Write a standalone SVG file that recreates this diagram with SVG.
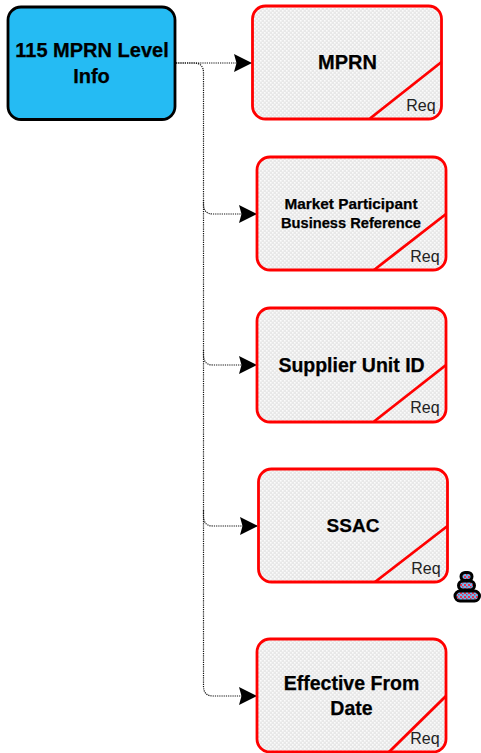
<svg xmlns="http://www.w3.org/2000/svg" width="481" height="753" viewBox="0 0 481 753">
<style>
.t{font-family:"Liberation Sans",Arial,sans-serif;font-weight:700;fill:#000;text-anchor:middle;stroke:#000;stroke-width:.25}
.b{fill:url(#dots);stroke:#f00;stroke-width:2.8}
.d{fill:none;stroke:#f00;stroke-width:2.8}
.r{font-family:"Liberation Sans",Arial,sans-serif;font-size:16px;fill:#222;text-anchor:middle}
.c{fill:none;stroke:#111;stroke-width:1.2;stroke-dasharray:1.2 1}
</style>
<defs>
<pattern id="dots" width="4" height="4" patternUnits="userSpaceOnUse">
<rect width="4" height="4" fill="#e8e8e8"/>
<rect x="0" y="0" width="1.6" height="1.6" fill="#fbfbfb"/>
<rect x="2" y="2" width="1.6" height="1.6" fill="#fbfbfb"/>
</pattern>
<pattern id="stk" width="4" height="4" patternUnits="userSpaceOnUse">
<rect width="4" height="4" fill="#6cb8f2"/>
<rect x="0" y="0" width="2" height="2" fill="#e8304e"/>
<rect x="2" y="2" width="1.500" height="1.500" fill="#e8304e"/>
</pattern>
<marker id="arr" markerUnits="userSpaceOnUse" markerWidth="19" markerHeight="19" refX="18" refY="9.500" orient="auto">
<path d="M0 0.500L18 9.500L0 18.500L2.500 9.500Z" fill="#000"/>
</marker>
</defs>
<g id="connectors">
<path class="c" d="M176 63H252" marker-end="url(#arr)"/>
<path class="c" d="M176 63H194Q203.500 63 203.500 73V204Q203.500 214 213 214H257" marker-end="url(#arr)"/>
<path class="c" d="M203.500 200V355Q203.500 365 213 365H257" marker-end="url(#arr)"/>
<path class="c" d="M203.500 350V516Q203.500 526 213 526H258" marker-end="url(#arr)"/>
<path class="c" d="M203.500 510V686Q203.500 696 213 696H257" marker-end="url(#arr)"/>
</g>
<g id="node-root">
<rect x="8" y="7" width="167" height="112.500" rx="13" fill="#25bbf3" stroke="#000" stroke-width="2.800"/>
<text class="t" x="92" y="57" font-size="20">115 MPRN Level</text>
<text class="t" x="91.500" y="83" font-size="20">Info</text>
</g>
<g id="node-mprn">
<rect class="b" x="252.500" y="6" width="189" height="113" rx="13"/>
<path class="d" d="M370 118.500L441.500 62"/>
<text class="t" x="347.500" y="69" font-size="20">MPRN</text>
<text class="r" x="421" y="111">Req</text>
</g>
<g id="node-market">
<rect class="b" x="257" y="157" width="189" height="113" rx="13"/>
<path class="d" d="M374 270L446 214"/>
<text class="t" x="351" y="209" font-size="15" textLength="133" lengthAdjust="spacingAndGlyphs">Market Participant</text>
<text class="t" x="351" y="228" font-size="15" textLength="140" lengthAdjust="spacingAndGlyphs">Business Reference</text>
<text class="r" x="425" y="262">Req</text>
</g>
<g id="node-supplier">
<rect class="b" x="257" y="308" width="189" height="114" rx="13"/>
<path class="d" d="M374 421.500L446 365"/>
<text class="t" x="351.500" y="372" font-size="19.500">Supplier Unit ID</text>
<text class="r" x="425" y="413">Req</text>
</g>
<g id="node-ssac">
<rect class="b" x="258.500" y="469" width="189" height="113" rx="13"/>
<path class="d" d="M375 582L447.500 526"/>
<text class="t" x="353" y="532" font-size="19">SSAC</text>
<text class="r" x="426" y="574">Req</text>
</g>
<g id="node-effective">
<rect class="b" x="257" y="639" width="189" height="113" rx="13"/>
<path class="d" d="M389 752L446 696"/>
<text class="t" x="351.500" y="690" font-size="19.500">Effective From</text>
<text class="t" x="351.500" y="715" font-size="19.500">Date</text>
<text class="r" x="425" y="744">Req</text>
</g>
<g id="stack-icon" fill="url(#stk)" stroke="#000" stroke-width="3">
<rect x="461" y="572.500" width="11" height="8" rx="4"/>
<rect x="458.500" y="581" width="16" height="9" rx="4.500"/>
<rect x="455" y="591" width="24.500" height="10" rx="5"/>
</g>
</svg>
